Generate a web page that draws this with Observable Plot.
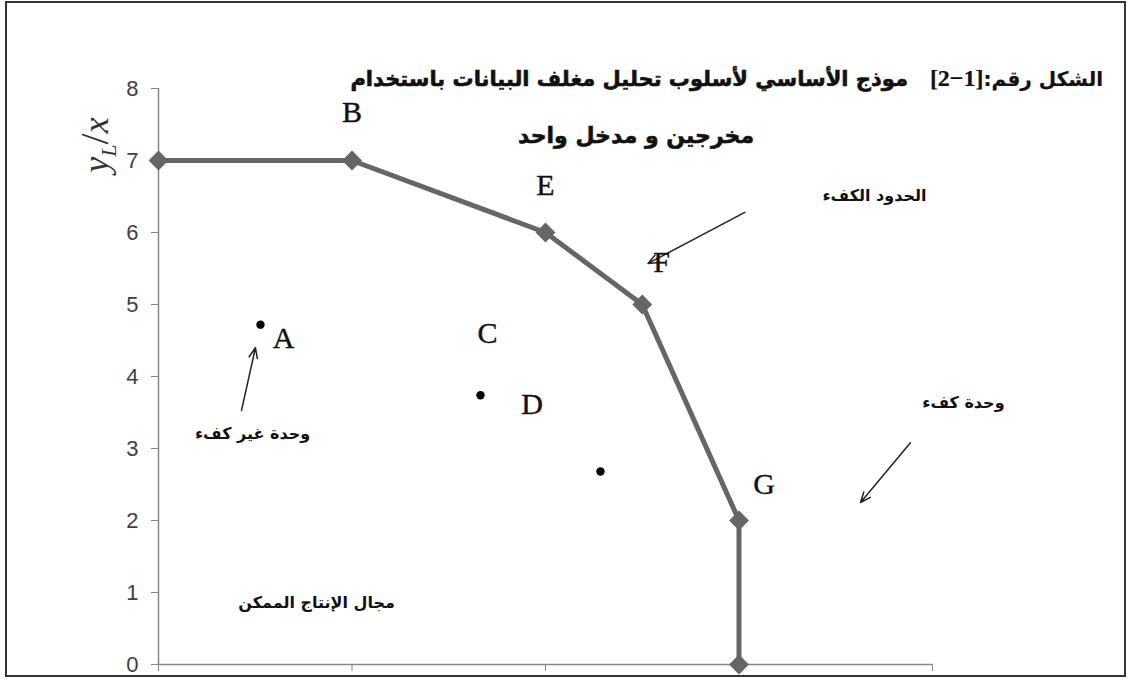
<!DOCTYPE html>
<html>
<head>
<meta charset="utf-8">
<script src="https://cdn.jsdelivr.net/npm/d3@7"></script>
<script src="https://cdn.jsdelivr.net/npm/@observablehq/plot@0.6"></script>
<style>
  html, body { margin: 0; padding: 0; background: #fff; }
  #wrap { position: relative; width: 1129px; height: 679px; overflow: hidden; }
  #frame { position: absolute; left: 5px; top: 1px; width: 1121px; height: 676px; box-sizing: border-box; border: 2px solid #333; pointer-events: none; }
  .title { position: absolute; direction: rtl; white-space: nowrap; font-family: "DejaVu Sans", sans-serif; font-weight: bold; color: #111; -webkit-text-stroke: 0.6px #111; }
  #t1 { right: 26px; top: 65px; font-size: 21px; }
  #t2 { left: 518px; top: 123px; font-size: 22px; }
  .lead { -webkit-text-stroke: 0.2px #111; font-size: 20px; }
  .num { font-family: "Liberation Serif", serif; font-size: 24px; font-weight: bold; -webkit-text-stroke: 0.2px #111; }
  #chart { position: absolute; left: 0; top: 0; }
</style>
</head>
<body>
<div id="wrap">
  <div id="chart"></div>
  <div class="title" id="t1"><span class="lead">الشكل رقم:</span><span class="num" dir="ltr">[2−1]</span>&nbsp;&nbsp; موذج الأساسي لأسلوب تحليل مغلف البيانات باستخدام</div>
  <div class="title" id="t2">مخرجين و مدخل واحد</div>
  <div id="frame"></div>
</div>
<script>
// Efficient frontier (piecewise linear envelope)
const frontierX = [0, 1, 2, 2.5, 3, 3];
const frontierY = [7, 7, 6, 5, 2, 0];

// Inefficient units (dots)
const unitX = [0.527, 1.664, 2.284];
const unitY = [4.72, 3.74, 2.68];

// Letter labels
const labelNames = ["A", "B", "C", "D", "E", "F", "G"];
const labelX = [0.646, 1.0, 1.70, 1.93, 2.0, 2.60, 3.13];
const labelY = [4.53, 7.67, 4.60, 3.61, 6.65, 5.58, 2.50];

// Arabic annotations
const noteText = ["الحدود الكفء", "وحدة كفء", "وحدة غير كفء", "مجال الإنتاج الممكن"];
const noteX = [3.70, 4.16, 0.486, 0.817];
const noteY = [6.51, 3.63, 3.21, 0.85];

// Annotation arrows
const arrowX1 = [3.03, 3.886, 0.429];
const arrowY1 = [6.28, 3.08, 3.53];
const arrowX2 = [2.53, 3.628, 0.501];
const arrowY2 = [5.57, 2.25, 4.40];

// Axis ticks
const yTicks = [0, 1, 2, 3, 4, 5, 6, 7, 8];
const xTicks = [0, 1, 2, 3, 4];

const frontier = frontierX.map((x, i) => ({x, y: frontierY[i]}));
const units = unitX.map((x, i) => ({x, y: unitY[i]}));
const labels = labelNames.map((name, i) => ({name, x: labelX[i], y: labelY[i]}));
const notes = noteText.map((text, i) => ({text, x: noteX[i], y: noteY[i]}));
const arrows = arrowX1.map((x1, i) => ({x1, y1: arrowY1[i], x2: arrowX2[i], y2: arrowY2[i]}));

const plot = Plot.plot({
  width: 1129,
  height: 679,
  marginTop: 88,
  marginBottom: 15,
  marginLeft: 158,
  marginRight: 197,
  x: {domain: [0, 4], axis: null},
  y: {domain: [0, 8], axis: null},
  marks: [
    Plot.axisY({ticks: yTicks, tickSize: 7, tickPadding: 13, stroke: "#888", fill: "#404040",
      fontSize: 22, fontFamily: "Liberation Sans, sans-serif", label: null}),
    Plot.axisX({ticks: xTicks, tickSize: 7, stroke: "#888", tickFormat: () => "", label: null}),
    Plot.ruleX([0], {y1: 0, y2: 8, stroke: "#888", strokeWidth: 1.5}),
    Plot.ruleY([0], {x1: 0, x2: 4, stroke: "#888", strokeWidth: 1.5}),
    Plot.line(frontier, {x: "x", y: "y", stroke: "#666", strokeWidth: 5}),
    Plot.dot(frontier, {x: "x", y: "y", symbol: "diamond2", r: 8, fill: "#666", stroke: "#666"}),
    Plot.dot(units, {x: "x", y: "y", r: 4.2, fill: "#000"}),
    Plot.arrow(arrows, {x1: "x1", y1: "y1", x2: "x2", y2: "y2", stroke: "#222", strokeWidth: 1.5, headLength: 11, headAngle: 45}),
    Plot.text(labels, {x: "x", y: "y", text: "name", fontSize: 30, fontFamily: "Liberation Serif, serif", fill: "#111", stroke: "#111", strokeWidth: 0.4}),
    Plot.text(notes, {x: "x", y: "y", text: "text", fontSize: 16, fontWeight: "bold", fontFamily: "DejaVu Sans, sans-serif", fill: "#111"})
  ]
});
document.getElementById("chart").appendChild(plot);

// Y-axis title  y_L / x  (rotated)
const svg = d3.select(plot);
const lab = svg.append("text")
  .attr("transform", "translate(108,145) rotate(-90)")
  .attr("text-anchor", "middle")
  .attr("font-family", "Liberation Serif, serif")
  .attr("font-style", "italic")
  .attr("font-size", 36)
  .attr("fill", "#333");
lab.append("tspan").text("y");
lab.append("tspan").attr("font-size", 22).attr("dy", 8).text("L");
lab.append("tspan").attr("dy", -8).attr("font-style", "normal").attr("font-size", 40).text("/");
lab.append("tspan").text("x");
</script>
</body>
</html>
